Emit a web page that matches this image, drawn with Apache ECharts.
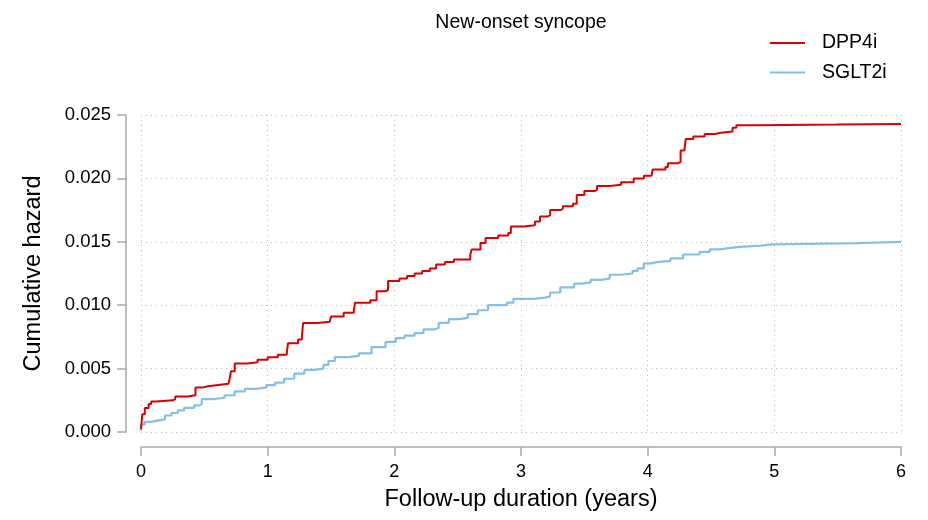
<!DOCTYPE html>
<html>
<head>
<meta charset="utf-8">
<script src="https://cdn.jsdelivr.net/npm/echarts@6/dist/echarts.min.js"></script>
<style>
html, body { margin: 0; padding: 0; background: #fff; }
#chart { width: 928px; height: 520px; }
</style>
</head>
<body>
<div id="chart"></div>
<script>
// [years, cumulative hazard]
const dpp4i = [
  [0, 0.0002], [0.01, 0.0014], [0.03, 0.0019], [0.06, 0.0022], [0.08, 0.0024], [0.12, 0.0025],
  [0.25, 0.0026], [0.27, 0.0028], [0.37, 0.0029], [0.43, 0.0035], [0.48, 0.0036], [0.53, 0.0037],
  [0.61, 0.0038], [0.69, 0.0039], [0.70, 0.0042], [0.71, 0.0048], [0.74, 0.0054], [0.84, 0.0055],
  [0.92, 0.0057], [1.00, 0.0059], [1.08, 0.0061], [1.15, 0.0062], [1.16, 0.0070], [1.24, 0.0073],
  [1.27, 0.0075], [1.28, 0.0086], [1.39, 0.0087], [1.49, 0.0088], [1.50, 0.0091], [1.60, 0.0094],
  [1.68, 0.0096], [1.69, 0.0102], [1.81, 0.0104], [1.86, 0.0111], [1.93, 0.0112], [1.95, 0.0119],
  [2.04, 0.0121], [2.10, 0.0123], [2.16, 0.0125], [2.22, 0.0127], [2.28, 0.0129], [2.33, 0.0132],
  [2.40, 0.0134], [2.47, 0.0136], [2.60, 0.0140], [2.61, 0.0144], [2.68, 0.0149], [2.72, 0.0153],
  [2.82, 0.0155], [2.90, 0.0157], [2.92, 0.0162], [3.02, 0.0163], [3.11, 0.0166], [3.15, 0.0170],
  [3.21, 0.0171], [3.23, 0.0175], [3.31, 0.0176], [3.33, 0.0178], [3.41, 0.0180], [3.44, 0.0187],
  [3.50, 0.0190], [3.58, 0.0191], [3.60, 0.0194], [3.70, 0.0195], [3.79, 0.0197], [3.89, 0.0200],
  [3.97, 0.0202], [4.03, 0.0203], [4.04, 0.0207], [4.14, 0.0209], [4.16, 0.0212], [4.24, 0.0213],
  [4.26, 0.0222], [4.29, 0.0223], [4.30, 0.0231], [4.36, 0.0233], [4.45, 0.0235], [4.53, 0.0236],
  [4.58, 0.0237], [4.67, 0.0240], [4.70, 0.0242], [4.87, 0.02425], [5.49, 0.0243], [6.0, 0.0243]
];
const sglt2i = [
  [0, 0.0002], [0.003, 0.0006], [0.03, 0.0008], [0.08, 0.0009], [0.13, 0.0010], [0.19, 0.0013],
  [0.24, 0.0015], [0.29, 0.0017], [0.34, 0.0019], [0.42, 0.0021], [0.46, 0.0022], [0.48, 0.0026],
  [0.58, 0.0027], [0.66, 0.0029], [0.74, 0.0032], [0.82, 0.0034], [0.90, 0.0035], [0.99, 0.0037],
  [1.06, 0.0039], [1.13, 0.0042], [1.21, 0.0046], [1.29, 0.0049], [1.37, 0.0050], [1.44, 0.0053],
  [1.48, 0.0056], [1.53, 0.0059], [1.64, 0.0060], [1.72, 0.0062], [1.82, 0.0067], [1.93, 0.0071],
  [2.01, 0.0074], [2.08, 0.0076], [2.16, 0.0078], [2.23, 0.0081], [2.32, 0.0082], [2.35, 0.0086],
  [2.43, 0.0089], [2.51, 0.0090], [2.58, 0.0093], [2.66, 0.0096], [2.74, 0.0100], [2.89, 0.0102],
  [2.94, 0.0105], [3.10, 0.0106], [3.19, 0.0107], [3.23, 0.0110], [3.31, 0.0114], [3.42, 0.0117],
  [3.48, 0.0118], [3.55, 0.0120], [3.63, 0.0121], [3.70, 0.0124], [3.79, 0.0125], [3.88, 0.0127],
  [3.92, 0.0129], [3.97, 0.0133], [4.03, 0.0134], [4.07, 0.0135], [4.18, 0.0137], [4.28, 0.0140],
  [4.41, 0.0142], [4.49, 0.0144], [4.57, 0.0145], [4.64, 0.0146], [4.73, 0.0147], [4.89, 0.0148],
  [4.99, 0.0149], [5.66, 0.0150], [6.0, 0.0150]
];
const seriesNames = ['DPP4i', 'SGLT2i'];
const seriesColors = ['#DC0000', '#86C0E8'];

var font = 'Liberation Sans, Arial, Helvetica, sans-serif';
var gridLine = { show: true, lineStyle: { color: '#bdbdbd', type: [1, 4], width: 1 } };
var axisGrey = { color: '#aaa', width: 1.5 };

var myChart = echarts.init(document.getElementById('chart'));
var option = {
  backgroundColor: '#fff',
  animation: false,
  title: {
    text: 'New-onset syncope',
    left: 516, top: 8, textAlign: 'center',
    textStyle: { fontFamily: font, fontSize: 19.5, fontWeight: 'normal', color: '#000' }
  },
  legend: {
    orient: 'vertical',
    left: 770, top: 33, padding: 0,
    icon: 'rect',
    itemWidth: 35, itemHeight: 2, itemGap: 9.5,
    textStyle: { fontFamily: font, fontSize: 19.5, color: '#000', padding: [0, 0, 0, 12] },
    data: seriesNames
  },
  grid: { left: 141, right: 27, top: 115, bottom: 88, outerBoundsMode: 'none' },
  xAxis: {
    type: 'value', min: 0, max: 6, interval: 1,
    offset: 15,
    name: 'Follow-up duration (years)',
    nameLocation: 'middle', nameGap: 41,
    nameTextStyle: { fontFamily: font, fontSize: 23.5, color: '#000' },
    axisLine: { show: true, onZero: false, lineStyle: axisGrey },
    axisTick: { show: true, length: 9, lineStyle: axisGrey },
    axisLabel: { fontFamily: font, fontSize: 18, color: '#000', margin: 16 },
    splitLine: gridLine
  },
  yAxis: {
    type: 'value', min: 0, max: 0.025, interval: 0.005,
    offset: 15,
    name: 'Cumulative hazard',
    nameLocation: 'middle', nameGap: 80,
    nameTextStyle: { fontFamily: font, fontSize: 23.5, color: '#000' },
    axisLine: { show: true, onZero: false, lineStyle: axisGrey },
    axisTick: { show: true, length: 9, lineStyle: axisGrey },
    axisLabel: { fontFamily: font, fontSize: 18.5, color: '#000', margin: 15,
      formatter: function (v) { return v.toFixed(3); } },
    splitLine: gridLine
  },
  series: [
    {
      name: seriesNames[0], type: 'line', step: 'end', symbol: 'none',
      data: dpp4i, color: seriesColors[0],
      lineStyle: { width: 2, color: seriesColors[0] }, z: 3
    },
    {
      name: seriesNames[1], type: 'line', step: 'end', symbol: 'none',
      data: sglt2i, color: seriesColors[1],
      lineStyle: { width: 2.2, color: seriesColors[1] }, z: 2
    }
  ]
};
myChart.setOption(option);
</script>
</body>
</html>
